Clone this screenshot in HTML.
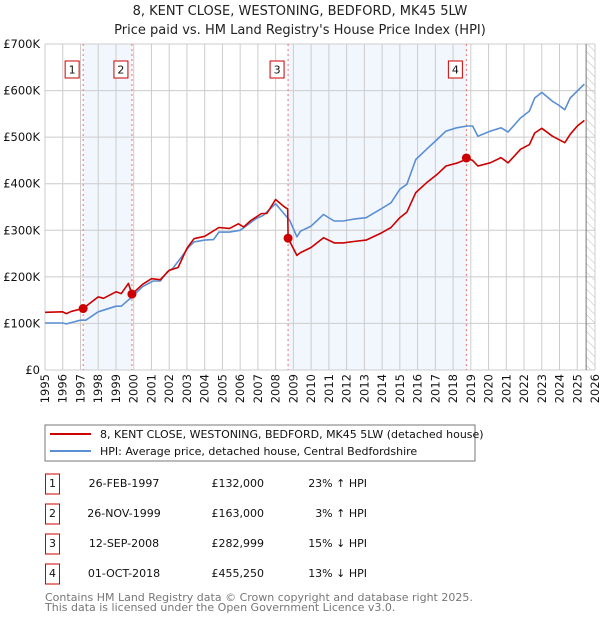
<!DOCTYPE html>
<html><head><meta charset="utf-8"><style>
body{margin:0;background:#fff;font-family:"DejaVu Sans","Liberation Sans",sans-serif;}
svg text{font-family:"DejaVu Sans","Liberation Sans",sans-serif;}
</style></head><body>
<svg id="c" width="600" height="620" xmlns="http://www.w3.org/2000/svg">
<defs><pattern id="hatch" width="6" height="6" patternUnits="userSpaceOnUse" patternTransform="rotate(-45)"><line x1="0" y1="0" x2="0" y2="6" stroke="#bbb" stroke-width="1"/></pattern></defs>
<text x="300" y="15" text-anchor="middle" font-size="13" fill="#222">8, KENT CLOSE, WESTONING, BEDFORD, MK45 5LW</text>
<text x="300" y="34" text-anchor="middle" font-size="13" fill="#222">Price paid vs. HM Land Registry's House Price Index (HPI)</text>
<g id="plot"></g>
<rect x="45" y="425" width="430" height="36" fill="#fff" stroke="#777"/>
<line x1="50" y1="434" x2="91" y2="434" stroke="#cc0000" stroke-width="2"/>
<text x="100" y="438" font-size="11" fill="#111">8, KENT CLOSE, WESTONING, BEDFORD, MK45 5LW (detached house)</text>
<line x1="50" y1="451" x2="91" y2="451" stroke="#5b8fd4" stroke-width="2"/>
<text x="100" y="455" font-size="11" fill="#111">HPI: Average price, detached house, Central Bedfordshire</text>
<g id="table" font-size="11" fill="#111"></g>
<text x="45" y="601" font-size="11" fill="#777">Contains HM Land Registry data © Crown copyright and database right 2025.</text>
<text x="45" y="611" font-size="11" fill="#777">This data is licensed under the Open Government Licence v3.0.</text>
</svg>
<script>
const hpiYears=[1995,1996,1996.2,1997,1997.3,1998,1999,1999.3,1999.9,2000.5,2001.1,2001.5,2001.9,2002.2,2002.7,2003.1,2003.4,2004,2004.5,2004.8,2005.4,2006,2006.5,2006.9,2007.3,2008,2008.4,2008.8,2009.2,2009.4,2010,2010.7,2011.3,2011.8,2012.4,2013.1,2013.9,2014.5,2015,2015.4,2015.9,2016.5,2017.1,2017.6,2018.2,2018.8,2019.1,2019.4,2020.1,2020.7,2021.1,2021.8,2022.3,2022.6,2023,2023.6,2023.9,2024.3,2024.6,2025,2025.4];
const hpiValues=[101,101,99,107,107,125,137,137,157,179,191,191,211,218,243,264,275,279,280,296,296,300,314,325,332,357,339,321,286,298,309,334,320,320,324,327,345,359,388,399,452,474,495,513,520,524,524,502,513,520,511,541,556,584,596,577,570,559,584,599,614];
const priceYears=[1995,1996,1996.2,1996.5,1997.15,1998,1998.3,1999,1999.3,1999.7,1999.9,2000.5,2001,2001.5,2002,2002.5,2003,2003.4,2004,2004.8,2005.4,2005.9,2006.2,2006.6,2007.2,2007.5,2008,2008.5,2008.68,2008.7,2009.2,2009.4,2010,2010.7,2011.3,2011.8,2012.4,2013.1,2013.9,2014.5,2015,2015.4,2015.9,2016.5,2017.1,2017.6,2018.2,2018.6,2018.75,2019.1,2019.4,2020.1,2020.7,2021.1,2021.8,2022.3,2022.6,2023,2023.6,2024.3,2024.6,2025,2025.4];
const priceValues=[124,125,121,126,132,157,154,168,164,186,163,184,196,194,214,220,261,282,287,306,304,314,307,321,336,336,366,350,346,283,246,252,263,284,273,273,276,279,293,306,327,339,381,402,420,438,444,450,455,450,438,445,456,445,474,484,509,519,502,488,506,524,536];
const saleYears=[1997.15,1999.9,2008.7,2018.75];
const saleValues=[132,163,283,455.25];
const saleLabels=["1","2","3","4"];
const saleDates=["26-FEB-1997","26-NOV-1999","12-SEP-2008","01-OCT-2018"];
const salePrices=["£132,000","£163,000","£282,999","£455,250"];
const saleHpi=["23% ↑ HPI","3% ↑ HPI","15% ↓ HPI","13% ↓ HPI"];
const yTicks=[0,100,200,300,400,500,600,700];
const yTickLabels=["£0","£100K","£200K","£300K","£400K","£500K","£600K","£700K"];
const xTicks=[1995,1996,1997,1998,1999,2000,2001,2002,2003,2004,2005,2006,2007,2008,2009,2010,2011,2012,2013,2014,2015,2016,2017,2018,2019,2020,2021,2022,2023,2024,2025,2026];

const NS="http://www.w3.org/2000/svg";
const L=45,R=595,T=44,B=370;
const xs=y=>L+(y-1995)*(R-L)/31;
const ys=v=>B-v*(B-T)/700;
const plot=document.getElementById('plot');
function mk(tag,attrs,parent){const e=document.createElementNS(NS,tag);for(const k in attrs)e.setAttribute(k,attrs[k]);(parent||plot).appendChild(e);return e;}
for(const [a,b] of [[0,1],[2,3]]){
 const r=mk('rect',{x:xs(saleYears[a]),y:T,width:xs(saleYears[b])-xs(saleYears[a]),height:B-T,fill:'#f2f6fd'});
 
 
}
const h=mk('rect',{x:xs(2025.5),y:T,width:R-xs(2025.5),height:B-T,fill:'url(#hatch)'});


xTicks.forEach(t=>{
 const g=mk('line',{x1:xs(t),x2:xs(t),y1:T,y2:B,stroke:'#ccc','stroke-width':1});
 
 
 const tx=mk('text',{x:0,y:0,'text-anchor':'end','font-size':11.5,fill:'#111',transform:'translate('+(xs(t)+4)+',374) rotate(-90)'});
 tx.textContent=t;
 
 
});
yTicks.forEach((t,i)=>{
 const g=mk('line',{x1:L,x2:R,y1:ys(t),y2:ys(t),stroke:'#ccc','stroke-width':1});
 
 
 const tx=mk('text',{x:L-5,y:ys(t)+4,'text-anchor':'end','font-size':11.5,fill:'#111'});
 tx.textContent=yTickLabels[i];
 
 
});
const nl=mk('line',{x1:xs(2025.5),x2:xs(2025.5),y1:T,y2:B,stroke:'#777','stroke-width':1});


saleYears.forEach((y,i)=>{
 const l=mk('line',{x1:xs(y),x2:xs(y),y1:T,y2:B,stroke:'#f07070','stroke-width':1,'stroke-dasharray':'2,3'});
 
 
});
function path(xa,va,color,name){
 const d=xa.map((x,i)=>(i?'L':'M')+xs(x).toFixed(1)+','+ys(va[i]).toFixed(1)).join('');
 const p=mk('path',{d:d,fill:'none',stroke:color,'stroke-width':1.6,'stroke-linejoin':'round'});
 
 
}
path(hpiYears,hpiValues,'#5b8fd4','hpi-line');
path(priceYears,priceValues,'#cc0000','price-paid-line');
saleYears.forEach((y,i)=>{
 const c=mk('circle',{cx:xs(y),cy:ys(saleValues[i]),r:4.5,fill:'#cc0000'});
 
 
 const b=mk('rect',{x:xs(y)-18,y:61,width:14,height:17,fill:'#fff',stroke:'#cc0000'});
 
 
 const t=mk('text',{x:xs(y)-11,y:73.5,'text-anchor':'middle','font-size':11,fill:'#111'});
 t.textContent=saleLabels[i];
 
 
});
const tb=document.getElementById('table');
saleLabels.forEach((s,i)=>{
 const cy=483+i*30;
 const b=mk('rect',{x:45.5,y:cy-9,width:14,height:20,fill:'#fff',stroke:'#cc0000'},tb);
 
 
 const cells=[[52.5,'middle',s],[124,'middle',saleDates[i]],[264,'end',salePrices[i]],[367,'end',saleHpi[i]]];
 cells.forEach(([x,a,txt],j)=>{
  const t=mk('text',{x:x,y:cy+4,'text-anchor':a,'font-size':11},tb);
  t.textContent=txt;
  
  
 });
});
</script>
</body></html>
